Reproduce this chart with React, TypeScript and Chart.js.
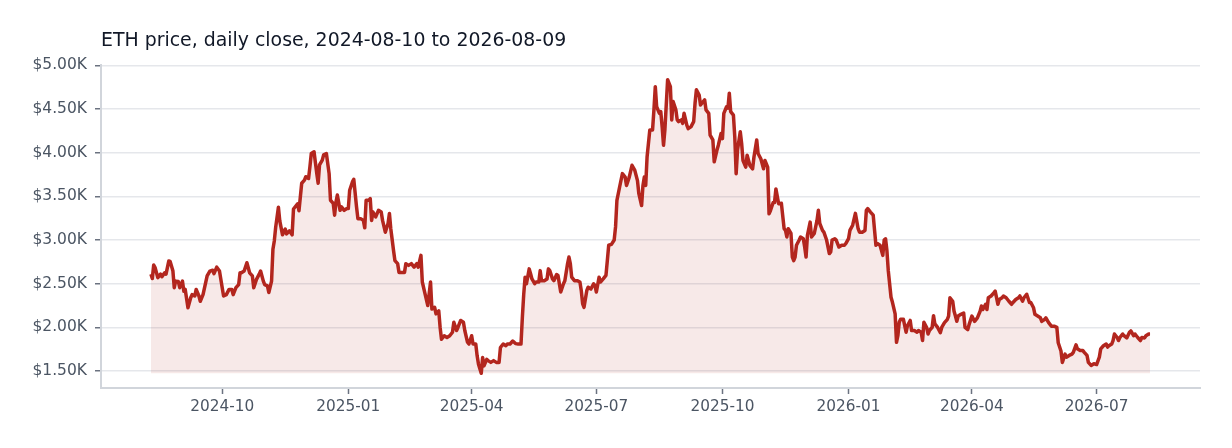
import { useEffect, useRef } from 'react'
import { Chart, registerables } from 'chart.js'

Chart.register(...registerables)

// ETH daily close. DAY = days since 2024-08-10
const DAY = [
  0, 1, 2, 3, 5, 7, 8, 10, 11, 13, 14, 16, 17, 18, 20, 21, 23, 24, 25, 27, 29, 30, 32, 33, 35, 36, 38, 41, 43, 45, 46, 48, 50,
  52, 53, 55, 57, 59, 60, 62, 64, 65, 66, 68, 70, 72, 74, 75, 77, 79, 80, 82, 83, 85, 86, 88, 89, 90, 91, 93, 94, 96, 98, 99,
  101, 103, 104, 105, 107, 108,
  110, 112, 113, 115, 116, 117, 119, 121, 122, 123, 125, 126, 128, 130, 131, 133, 134, 135, 136, 138, 139, 141, 143, 144, 145,
  147, 148, 150, 151, 153, 155, 156, 157, 159, 160, 161, 162, 164, 166, 168, 169, 171, 173, 174, 175, 177, 178, 180, 181, 183,
  185, 186, 188, 190, 192, 194, 195, 197, 198, 200, 202, 204, 205, 207, 208, 210, 211, 212, 214, 216, 218, 220, 221, 223, 224, 226,
  228, 229, 231, 232, 234, 235, 237, 238, 239, 241, 242, 243, 245, 246, 248, 250, 252, 254, 255, 257, 259, 260, 262, 264, 266,
  268, 270, 271, 272, 273, 274, 276, 277, 278, 280, 281, 283, 284, 285, 287, 289, 290, 291, 293, 294, 296, 297, 299, 301, 302,
  304, 305, 306, 307, 309, 311, 313, 314, 315, 316, 318, 319, 321, 323, 324, 325, 327, 328, 330, 332, 333, 334, 336, 338, 339, 340, 342,
  344, 346, 347, 349, 351, 353, 355, 356, 358, 359, 360, 361, 362, 364, 366, 367, 368, 369, 371, 372, 373, 374, 375, 377, 378,
  379, 380, 381, 383, 384, 385, 387, 388, 389, 391, 392, 394, 396, 397, 398, 400, 401, 403, 404, 405, 407, 408, 410, 411, 413,
  414, 416, 417, 418, 420, 421, 422, 423, 425, 426, 427, 428, 430, 431, 432, 434, 435, 437, 439, 440, 442, 443, 445, 447, 448,
  450, 451, 452, 454, 455, 456, 458,
  460, 462, 463, 464, 465, 467, 468, 469, 470, 471, 473, 474, 476, 477, 478, 479, 481, 482, 484, 486, 487, 488, 490, 491, 493,
  495, 496, 497, 499, 500, 502, 504, 506, 507, 509, 510, 512, 514, 516, 517, 519, 521, 522, 523, 525, 527, 528, 529, 530, 532,
  534, 535, 536, 537, 538, 540, 541, 543, 544, 545, 546, 547, 549, 551, 552, 554, 555, 557, 559, 560, 562, 563, 564, 566, 567,
  568, 570, 571, 572, 574,
  576, 577, 579, 581, 582, 583, 585, 586, 587, 588, 589, 591, 593, 594, 596, 597, 599, 601, 603, 605, 606, 607, 609, 610, 611,
  613, 615, 616, 617, 618, 619, 621, 622, 624, 626, 628, 629, 631, 633, 634, 636, 637, 639, 641, 642, 644, 645, 647, 649, 650,
  652, 653, 655, 657, 659, 661, 662,
  664, 665, 667, 668, 670, 672, 673, 675, 676, 678, 680, 681, 683, 684, 686, 688, 690, 692, 693, 695, 697, 698, 699, 701, 702,
  703, 705, 706, 707, 709, 710, 712, 714, 715, 717, 718, 720, 722, 723, 725, 726, 728, 729,
]

const CLOSE = [
  2610, 2560, 2715, 2685, 2570, 2610, 2580, 2625, 2610, 2760, 2755, 2650, 2455, 2530, 2525, 2455, 2530, 2415, 2435, 2225, 2340, 2375, 2360, 2435, 2360, 2300, 2375, 2590, 2645, 2655, 2615, 2690, 2645,
  2455, 2360, 2375, 2435, 2435, 2375, 2455, 2490, 2625, 2625, 2645, 2740, 2625, 2590, 2455, 2550, 2610, 2645, 2530, 2490, 2475, 2400, 2530, 2895, 2990, 3145, 3375, 3220, 3060, 3125, 3070,
  3105, 3060, 3355, 3375, 3415, 3335,
  3650, 3685, 3725, 3705, 3840, 3990, 4010, 3760, 3650, 3860, 3915, 3975, 3990, 3760, 3455, 3420, 3285, 3435, 3515, 3340, 3380, 3340, 3360, 3360, 3570,
  3665, 3695, 3380, 3245, 3245, 3225, 3140, 3455, 3455, 3475, 3225, 3320, 3265, 3340, 3320, 3225, 3090, 3190, 3305, 3130, 2880, 2765, 2730, 2630, 2630,
  2630, 2730, 2710, 2730, 2690, 2730, 2690, 2825, 2520, 2385, 2250, 2520, 2210, 2230, 2155, 2190, 2000, 1865, 1905, 1885, 1905, 1945, 2060, 1965, 2000, 2080,
  2060, 1965, 1830, 1810, 1905, 1810, 1810, 1675, 1580, 1475, 1655, 1560, 1635, 1620, 1600, 1620, 1600, 1600, 1770, 1810, 1790, 1810, 1810, 1845, 1815,
  1810, 1810, 2115, 2380, 2575, 2500, 2670, 2615, 2555, 2500, 2520, 2520, 2650, 2535, 2535, 2555, 2670, 2650, 2555, 2535, 2605, 2595, 2405, 2500, 2535,
  2730, 2805, 2730, 2575, 2535, 2535, 2520, 2420, 2270, 2230, 2420, 2460, 2440, 2500, 2480, 2405, 2575, 2520, 2555, 2595, 2765, 2940, 2950, 3000, 3150, 3455, 3610,
  3760, 3720, 3625, 3720, 3855, 3800, 3680, 3530, 3395, 3625, 3720, 3625, 3950, 4260, 4260, 4490, 4755, 4525, 4450, 4470, 4295, 4085, 4260, 4835, 4795,
  4755, 4375, 4585, 4490, 4375, 4355, 4375, 4335, 4450, 4315, 4275, 4295, 4355, 4565, 4720, 4660, 4545, 4585, 4605, 4490, 4450, 4200, 4145, 3895, 4030,
  4085, 4220, 4160, 4450, 4525, 4510, 4680, 4470, 4430, 4180, 3760, 4030, 4240, 4105, 3910, 3835, 3970, 3855, 3815, 3950, 4145, 3990, 3930, 3815, 3910,
  3835, 3300, 3335, 3430, 3430, 3585, 3415,
  3420, 3130, 3110, 3035, 3130, 3075, 2805, 2765, 2805, 2940, 3000, 3035, 3015, 2920, 2805, 3055, 3205, 3035, 3075, 3225, 3340, 3190, 3110, 3090, 3000,
  2845, 2865, 3000, 3015, 3000, 2920, 2940, 2940, 2960, 3015, 3110, 3170, 3305, 3130, 3090, 3090, 3110, 3340, 3360, 3320, 3285, 3110, 2940, 2960, 2940,
  2825, 3000, 3015, 2880, 2650, 2345, 2290, 2155, 1830, 1905, 2060, 2095, 2095, 1945, 2020, 2080, 1965, 1965, 1945, 1965, 1945, 1850, 2060, 2000, 1925,
  1965, 2000, 2135, 2040, 2000,
  1940, 2000, 2055, 2090, 2130, 2340, 2300, 2185, 2130, 2070, 2130, 2150, 2165, 2000, 1975, 2035, 2130, 2070, 2110, 2185, 2245, 2205, 2265, 2205, 2340,
  2360, 2395, 2415, 2340, 2265, 2320, 2340, 2360, 2340, 2300, 2265, 2285, 2320, 2340, 2360, 2300, 2340, 2380, 2285, 2285, 2225, 2150, 2130, 2110, 2070,
  2090, 2110, 2055, 2015, 2015, 2000, 1825,
  1730, 1600, 1695, 1660, 1680, 1695, 1715, 1800, 1755, 1735, 1735, 1715, 1680, 1600, 1565, 1585, 1575, 1660, 1755, 1790, 1810, 1775, 1790, 1810, 1850,
  1925, 1885, 1850, 1885, 1925, 1905, 1880, 1945, 1960, 1905, 1925, 1885, 1850, 1885, 1880, 1905, 1925, 1925,
]

const X_TICK_DAYS = [52, 144, 234, 325, 417, 509, 599, 690]
const X_TICK_LABELS = ['2024-10', '2025-01', '2025-04', '2025-07', '2025-10', '2026-01', '2026-04', '2026-07']
const Y_TICKS = [1500, 2000, 2500, 3000, 3500, 4000, 4500, 5000]

const TITLE = 'ETH price, daily close, 2024-08-10 to 2026-08-09'
const FONT = '"DejaVu Sans", Verdana, sans-serif'
const LINE = '#b3261e'
const AREA = 'rgba(179, 38, 30, 0.1)'
const TICK_TEXT = '#4b5563'
const AXIS = '#d1d5db'
const GRID = '#e5e7eb'

export default function App() {
  const canvasRef = useRef<HTMLCanvasElement>(null)
  const chartRef = useRef<Chart | null>(null)

  useEffect(() => {
    if (!canvasRef.current) return
    chartRef.current?.destroy()

    const lo = Math.min(...CLOSE)
    const hi = Math.max(...CLOSE)
    const first = DAY[0]
    const last = DAY[DAY.length - 1]
    const xPad = (last - first) * 0.05
    const yPad = (hi - lo) * 0.05

    chartRef.current = new Chart(canvasRef.current, {
      type: 'line',
      data: {
        datasets: [{
          data: DAY.map((d, i) => ({ x: d, y: CLOSE[i] })),
          borderColor: LINE,
          borderWidth: 3.5,
          backgroundColor: AREA,
          fill: { value: lo },
          pointRadius: 0,
          tension: 0,
          borderJoinStyle: 'round',
        }],
      },
      options: {
        animation: false,
        responsive: true,
        maintainAspectRatio: false,
        layout: { padding: { top: 65, right: 32, bottom: 0, left: 0 } },
        plugins: { legend: { display: false }, tooltip: { enabled: false } },
        scales: {
          x: {
            type: 'linear',
            min: first - xPad,
            max: last + xPad,
            afterBuildTicks: s => { s.ticks = X_TICK_DAYS.map(value => ({ value })) },
            afterFit: s => { s.height = 60 },
            ticks: {
              callback: v => X_TICK_LABELS[X_TICK_DAYS.indexOf(Number(v))] ?? '',
              color: TICK_TEXT,
              font: { family: FONT, size: 15.3 },
              padding: 4,
              maxRotation: 0,
              autoSkip: false,
            },
            grid: { drawOnChartArea: false, tickLength: 6, tickColor: '#6b7280', tickWidth: 1.5 },
            border: { color: AXIS, width: 2 },
          },
          y: {
            min: lo - yPad,
            max: hi + yPad,
            afterBuildTicks: s => { s.ticks = Y_TICKS.map(value => ({ value })) },
            afterFit: s => { s.width = 101 },
            ticks: {
              callback: v => `$${(Number(v) / 1000).toFixed(2)}K`,
              color: TICK_TEXT,
              font: { family: FONT, size: 15.5 },
              padding: 8,
            },
            grid: { color: GRID, lineWidth: 1.5, tickLength: 6, tickColor: '#6b7280', tickWidth: 1.5 },
            border: { color: AXIS, width: 2 },
          },
        },
      },
    })
    return () => chartRef.current?.destroy()
  }, [])

  return (
    <div style={{ position: 'fixed', left: 0, top: 0, width: 1232, height: 448, background: '#fff' }}>
      <div style={{ position: 'absolute', left: 101, top: 28, font: `18.9px ${FONT}`, color: '#111827', whiteSpace: 'nowrap' }}>
        {TITLE}
      </div>
      <canvas ref={canvasRef} />
    </div>
  )
}
